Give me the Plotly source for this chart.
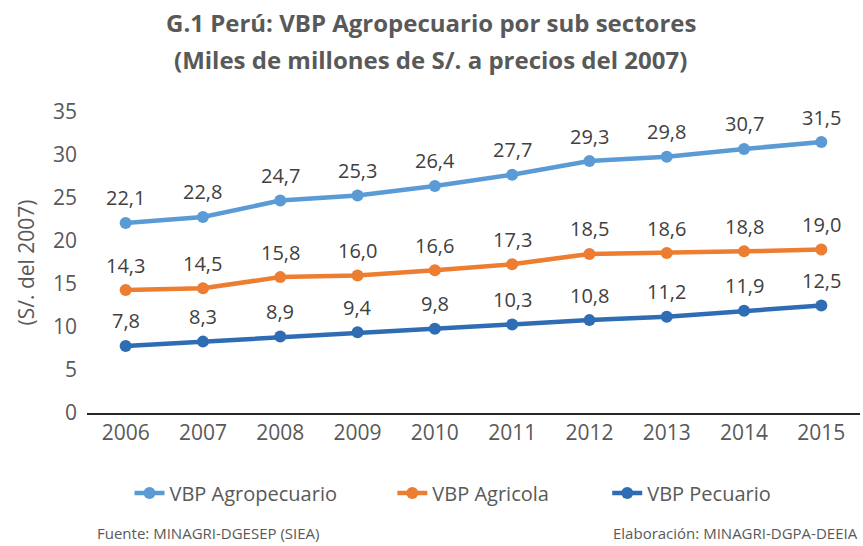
import plotly.graph_objects as go

years = ["2006", "2007", "2008", "2009", "2010", "2011", "2012", "2013", "2014", "2015"]
agropecuario = [22.1, 22.8, 24.7, 25.3, 26.4, 27.7, 29.3, 29.8, 30.7, 31.5]
agricola = [14.3, 14.5, 15.8, 16.0, 16.6, 17.3, 18.5, 18.6, 18.8, 19.0]
pecuario = [7.8, 8.3, 8.9, 9.4, 9.8, 10.3, 10.8, 11.2, 11.9, 12.5]
y_ticks = [0, 5, 10, 15, 20, 25, 30, 35]

series = [
    ("VBP Agropecuario", agropecuario, "#5B9BD5", "legend", 0.055),
    ("VBP Agricola", agricola, "#ED7D31", "legend2", 0.395),
    ("VBP Pecuario", pecuario, "#2E6DB4", "legend3", 0.673),
]

FONT = "Open Sans"
GREY = "#595959"

fig = go.Figure()
annotations = []
legends = {}
for name, vals, col, leg, lx in series:
    fig.add_trace(go.Scatter(
        x=years, y=vals, name=name, mode="lines+markers", legend=leg,
        line=dict(color=col, width=4.5),
        marker=dict(color=col, size=12),
    ))
    legends[leg] = dict(x=lx, xanchor="left", y=-0.266, yanchor="middle",
                        orientation="h", bgcolor="rgba(0,0,0,0)",
                        font=dict(family=FONT, size=20, color=GREY))
    # etiquetas de datos con coma decimal (x = indice de categoria)
    for i, v in enumerate(vals):
        annotations.append(dict(
            x=i, y=v, xref="x", yref="y", text=f"{v:.1f}".replace(".", ","),
            showarrow=False, yshift=25, font=dict(family=FONT, size=20, color="#404040"),
        ))

annotations += [
    dict(text="<b>G.1 Perú: VBP Agropecuario por sub sectores</b>", xref="paper", yref="paper",
         x=0.445, y=1.299, xanchor="center", yanchor="middle", showarrow=False,
         font=dict(family=FONT, size=24, color=GREY)),
    dict(text="<b>(Miles de millones de S/. a precios del 2007)</b>", xref="paper", yref="paper",
         x=0.445, y=1.173, xanchor="center", yanchor="middle", showarrow=False,
         font=dict(family=FONT, size=24, color=GREY)),
    dict(text="Fuente: MINAGRI-DGESEP (SIEA)", xref="paper", yref="paper",
         x=0.01, y=-0.398, xanchor="left", yanchor="middle", showarrow=False,
         font=dict(family=FONT, size=15, color=GREY)),
    dict(text="Elaboración: MINAGRI-DGPA-DEEIA", xref="paper", yref="paper",
         x=1.0, y=-0.398, xanchor="right", yanchor="middle", showarrow=False,
         font=dict(family=FONT, size=15, color=GREY)),
]

fig.update_layout(
    width=863, height=546,
    margin=dict(l=87, r=3, t=112, b=133, autoexpand=False),
    paper_bgcolor="white", plot_bgcolor="white",
    font=dict(family=FONT, color=GREY),
    showlegend=True,
    annotations=annotations,
    **legends,
)
fig.update_xaxes(
    type="category", range=[-0.5, 9.5], showgrid=False, showline=True,
    linecolor="#262626", linewidth=1.5, ticks="", tickfont=dict(family=FONT, size=21, color=GREY),
)
fig.update_yaxes(
    range=[0, 35], tickvals=y_ticks, showgrid=False, showline=False, zeroline=False,
    tickfont=dict(family=FONT, size=21, color=GREY), ticklabelstandoff=9,
    title=dict(text="(S/. del 2007)", font=dict(family=FONT, size=21, color=GREY), standoff=12),
)

fig.write_html("out.html", config={"displayModeBar": False},
               post_script="document.body.style.margin='0';")
